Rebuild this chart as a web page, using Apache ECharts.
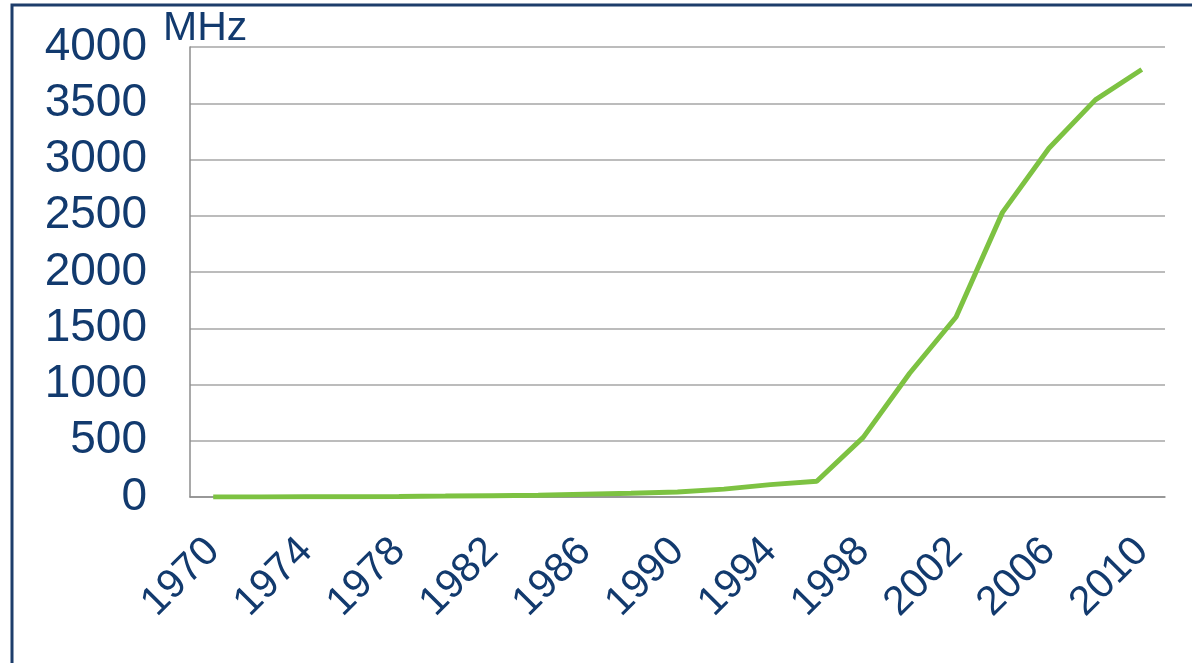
<!DOCTYPE html>
<html>
<head>
<meta charset="utf-8">
<script src="https://cdn.jsdelivr.net/npm/echarts@6/dist/echarts.min.js"></script>
<style>
  html, body { margin: 0; padding: 0; background: #fff; }
  #chart { width: 1192px; height: 663px; }
</style>
</head>
<body>
<div id="chart"></div>
<script>
// years, one point every 2 years
const years = ['1970', '1972', '1974', '1976', '1978', '1980', '1982', '1984', '1986', '1988',
  '1990', '1992', '1994', '1996', '1998', '2000', '2002', '2004', '2006', '2008', '2010'];
// clock speed in MHz
const clockMHz = [1, 1, 2, 3, 5, 8, 12, 16, 25, 33,
  45, 70, 110, 140, 530, 1100, 1600, 2530, 3100, 3530, 3800];
const yTicks = [0, 500, 1000, 1500, 2000, 2500, 3000, 3500, 4000];
const unitLabel = 'MHz';

const navy = '#123a6e';
const chart = echarts.init(document.getElementById('chart'));
chart.setOption({
  backgroundColor: '#fff',
  animation: false,
  graphic: [
    {
      // slide frame, only top and left show
      type: 'rect',
      shape: { x: 12, y: 5, width: 1200, height: 700 },
      style: { fill: 'none', stroke: '#1d3d6b', lineWidth: 3 },
    },
    {
      type: 'text',
      left: 163,
      top: 8,
      style: { text: unitLabel, fill: navy, font: '41px "Liberation Sans", Arial, sans-serif' },
    },
  ],
  grid: { left: 190, right: 27, top: 47, bottom: 166 },
  xAxis: {
    type: 'category',
    data: years,
    boundaryGap: true,
    axisLine: { lineStyle: { color: '#8c8c8c', width: 1.5 } },
    axisTick: { show: false },
    axisLabel: {
      interval: 1,
      rotate: 45,
      margin: 48,
      color: navy,
      fontSize: 41,
      fontFamily: '"Liberation Sans", Arial, sans-serif',
    },
  },
  yAxis: {
    type: 'value',
    min: yTicks[0],
    max: yTicks[yTicks.length - 1],
    interval: 500,
    axisLine: { show: true, lineStyle: { color: '#8c8c8c', width: 1.5 } },
    axisTick: { show: false },
    splitLine: { lineStyle: { color: '#a6a6a6', width: 1.5 } },
    axisLabel: {
      margin: 43,
      color: navy,
      fontSize: 46,
      fontFamily: '"Liberation Sans", Arial, sans-serif',
      formatter: (v) => String(v),
    },
  },
  series: [
    {
      type: 'line',
      data: clockMHz,
      showSymbol: false,
      lineStyle: { color: '#7dc242', width: 5 },
    },
  ],
});
</script>
</body>
</html>
